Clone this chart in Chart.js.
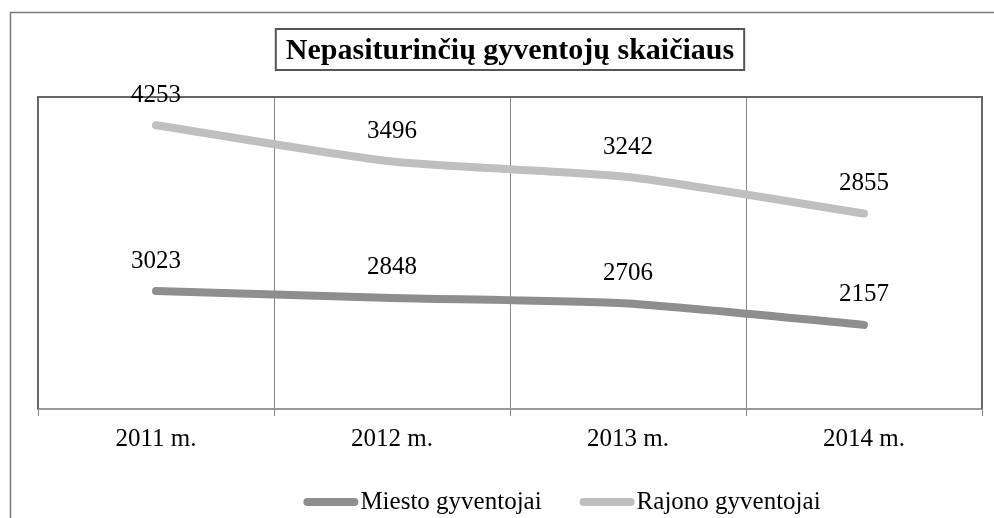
<!DOCTYPE html>
<html>
<head>
<meta charset="utf-8">
<script src="https://cdn.jsdelivr.net/npm/chart.js@4/dist/chart.umd.min.js"></script>
<style>
  body { margin: 0; background: #fff; }
  #myChart { display: block; }
</style>
</head>
<body>
<canvas id="myChart" width="994" height="518"></canvas>
<script>
// data
var years = ['2011 m.', '2012 m.', '2013 m.', '2014 m.'];
var miesto = [3023, 2848, 2706, 2157];
var rajono = [4253, 3496, 3242, 2855];

var chartTitle = 'Nepasiturinčių gyventojų skaičiaus';
var serif = '"Liberation Serif", "Times New Roman", serif';

// ++++++++++++++ little plugins: frame, title box, value labels, legend ++++++++++++++

var framePlugin = {
    id: 'frame',
    beforeDraw: function(chart) {
        var ctx = chart.ctx;
        ctx.save();
        ctx.strokeStyle = '#7a7a7a';
        ctx.lineWidth = 1.5;
        ctx.beginPath();
        ctx.moveTo(10.5, 530);
        ctx.lineTo(10.5, 12.5);
        ctx.lineTo(1000, 12.5);
        ctx.stroke();
        ctx.restore();
    },
    afterDatasetsDraw: function(chart) {
        var a = chart.chartArea;
        var ctx = chart.ctx;
        ctx.save();
        ctx.strokeStyle = '#666';
        ctx.lineWidth = 2;
        ctx.beginPath();
        ctx.moveTo(a.left, a.bottom);
        ctx.lineTo(a.left, a.top);
        ctx.lineTo(a.right, a.top);
        ctx.lineTo(a.right, a.bottom);
        ctx.stroke();
        ctx.restore();
    }
};

var titleBoxPlugin = {
    id: 'titleBox',
    afterDraw: function(chart) {
        var ctx = chart.ctx;
        ctx.save();
        ctx.font = 'bold 30px ' + serif;
        ctx.fillStyle = '#000';
        ctx.textAlign = 'center';
        ctx.textBaseline = 'alphabetic';
        var cx = 510;
        ctx.fillText(chartTitle, cx, 59);
        var w = ctx.measureText(chartTitle).width;
        ctx.strokeStyle = '#555';
        ctx.lineWidth = 2;
        ctx.strokeRect(cx - w / 2 - 10, 29, w + 20, 41);
        ctx.restore();
    }
};

var valueLabelPlugin = {
    id: 'valueLabels',
    afterDatasetsDraw: function(chart) {
        var ctx = chart.ctx;
        ctx.save();
        ctx.font = '25px ' + serif;
        ctx.fillStyle = '#000';
        ctx.textAlign = 'center';
        ctx.textBaseline = 'middle';
        chart.data.datasets.forEach(function(ds, i) {
            var meta = chart.getDatasetMeta(i);
            meta.data.forEach(function(pt, j) {
                ctx.fillText(String(ds.data[j]), pt.x, pt.y - 30);
            });
        });
        ctx.restore();
    }
};

var legendPlugin = {
    id: 'bottomLegend',
    afterDraw: function(chart) {
        var ctx = chart.ctx;
        var lineLen = 55, gapText = 2, gapItem = 38, y = 502;
        ctx.save();
        ctx.font = '25px ' + serif;
        var items = chart.data.datasets.map(function(ds) {
            return { text: ds.label, color: ds.borderColor, w: ctx.measureText(ds.label).width };
        });
        var total = 0;
        items.forEach(function(it, i) {
            total += lineLen + gapText + it.w + (i > 0 ? gapItem : 0);
        });
        var x = 562 - total / 2;
        items.forEach(function(it) {
            ctx.strokeStyle = it.color;
            ctx.lineWidth = 8;
            ctx.lineCap = 'round';
            ctx.beginPath();
            ctx.moveTo(x + 4, y);
            ctx.lineTo(x + lineLen - 4, y);
            ctx.stroke();
            ctx.fillStyle = '#000';
            ctx.textAlign = 'left';
            ctx.textBaseline = 'middle';
            ctx.fillText(it.text, x + lineLen + gapText, y);
            x += lineLen + gapText + it.w + gapItem;
        });
        ctx.restore();
    }
};

// +++++++++++++++++++++++++ ADDING CHART ++++++++++++++++++++++++++++++++++++

var canvas = document.getElementById('myChart').getContext('2d');
var myChart = new Chart(canvas, {
    type: 'line',
    data: {
        labels: years,
        datasets: [
            {
                label: 'Miesto gyventojai',
                data: miesto,
                borderColor: '#8e8e8e',
                backgroundColor: '#8e8e8e',
                borderWidth: 8,
                borderCapStyle: 'round',
                borderJoinStyle: 'round',
                pointRadius: 0,
                tension: 0.2,
                fill: false
            },
            {
                label: 'Rajono gyventojai',
                data: rajono,
                borderColor: '#bfbfbf',
                backgroundColor: '#bfbfbf',
                borderWidth: 8,
                borderCapStyle: 'round',
                borderJoinStyle: 'round',
                pointRadius: 0,
                tension: 0.2,
                fill: false
            }
        ]
    },
    options: {
        responsive: false,
        animation: false,
        layout: { padding: { top: 97, left: 38, right: 12, bottom: 0 } },
        plugins: {
            legend: { display: false },
            title: { display: false },
            tooltip: { enabled: false }
        },
        scales: {
            x: {
                offset: true,
                grid: { offset: true, color: '#888', lineWidth: 1, tickLength: 7 },
                border: { display: true, color: '#999', width: 2 },
                ticks: { color: '#000', padding: 8, font: { family: serif, size: 25 } },
                afterFit: function(scale) { scale.height = 109; }
            },
            y: {
                display: false,
                stacked: true,
                min: 0,
                max: 8000
            }
        }
    },
    plugins: [framePlugin, valueLabelPlugin, titleBoxPlugin, legendPlugin]
});
</script>
</body>
</html>
